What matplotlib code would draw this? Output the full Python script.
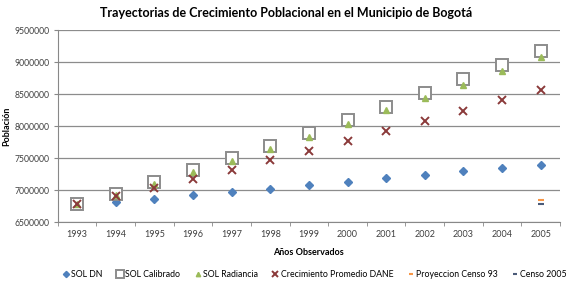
import matplotlib
matplotlib.use("Agg")
import matplotlib.pyplot as plt
import numpy as np

plt.rcParams['font.family'] = ['Lato', 'DejaVu Sans']

years = ["1993", "1994", "1995", "1996", "1997", "1998", "1999",
         "2000", "2001", "2002", "2003", "2004", "2005"]
sol_dn = [6778000, 6822000, 6868000, 6921000, 6978000, 7025000, 7079000,
          7126000, 7183000, 7237000, 7293000, 7347000, 7400000]
sol_calibrado = [6778000, 6946000, 7120000, 7315000, 7505000, 7683000, 7885000,
                 8094000, 8294000, 8511000, 8730000, 8958000, 9180000]
sol_radiancia = [6778000, 6930000, 7100000, 7280000, 7460000, 7650000, 7836000,
                 8036000, 8245000, 8440000, 8645000, 8865000, 9085000]
dane = [6778000, 6905000, 7030000, 7180000, 7320000, 7470000, 7613000,
        7762000, 7920000, 8077000, 8235000, 8404000, 8561000]
proy_censo93 = 6842000   # only 2005
censo2005 = 6779000      # only 2005

x = np.arange(len(years))

fig = plt.figure(figsize=(5.72, 2.87), dpi=100)
ax = fig.add_axes([0.101, 0.226, 0.878, 0.669])

ax.plot(x, sol_dn, ls="none", marker="D", ms=4.5, color="#4F81BD", label="SOL DN")
ax.plot(x, sol_calibrado, ls="none", marker="s", ms=9, mfc="white", mec="#8C8C8C",
        mew=1.4, label="SOL Calibrado")
ax.plot(x, sol_radiancia, ls="none", marker="^", ms=4.5, color="#9BBB59", label="SOL Radiancia")
ax.plot(x, dane, ls="none", marker="x", ms=6, mew=1.4, color="#8B3A3A",
        label="Crecimiento Promedio DANE")
ax.plot([x[-1]], [proy_censo93], ls="none", marker="_", ms=5, mew=1.5, color="#F79646",
        label="Proyeccion Censo 93")
ax.plot([x[-1]], [censo2005], ls="none", marker="_", ms=5, mew=1.5, color="#4A5B78",
        label="Censo 2005")

ax.set_xlim(-0.5, len(years) - 0.5)
ax.set_ylim(6500000, 9500000)
ax.set_yticks(np.arange(6500000, 9500001, 500000))
ax.ticklabel_format(axis="y", style="plain", useOffset=False)
ax.set_xticks(x)
ax.set_xticklabels(years)
ax.set_xticks(np.arange(-0.5, len(years), 1), minor=True)
ax.tick_params(axis="x", which="major", length=0, labelsize=6.5, pad=6, colors="#404040")
ax.tick_params(axis="x", which="minor", length=3, color="#888888")
ax.tick_params(axis="y", length=3, labelsize=6.2, pad=3, color="#888888", colors="#404040")
ax.grid(axis="y", color="#8C8C8C", lw=0.9)
ax.set_axisbelow(True)
for s in ["top", "right"]:
    ax.spines[s].set_visible(False)
for s in ["left", "bottom"]:
    ax.spines[s].set_color("#888888")

ax.set_xlabel("Años Observados", fontsize=6.5, fontweight="bold", labelpad=6)
ax.set_ylabel("Población", fontsize=6.5, fontweight="bold")
ax.yaxis.set_label_coords(-0.093, 0.5)
fig.suptitle("Trayectorias de Crecimiento Poblacional en el Municipio de Bogotá",
             x=0.5, y=0.975, fontsize=9, fontweight="bold")

fig.legend(loc="lower center", bbox_to_anchor=(0.55, 0.0), ncol=6, frameon=False,
           fontsize=6.3, handlelength=0.8, handletextpad=0.2, columnspacing=1.6,
           markerscale=0.7)

fig.savefig("out.png", dpi=100)
